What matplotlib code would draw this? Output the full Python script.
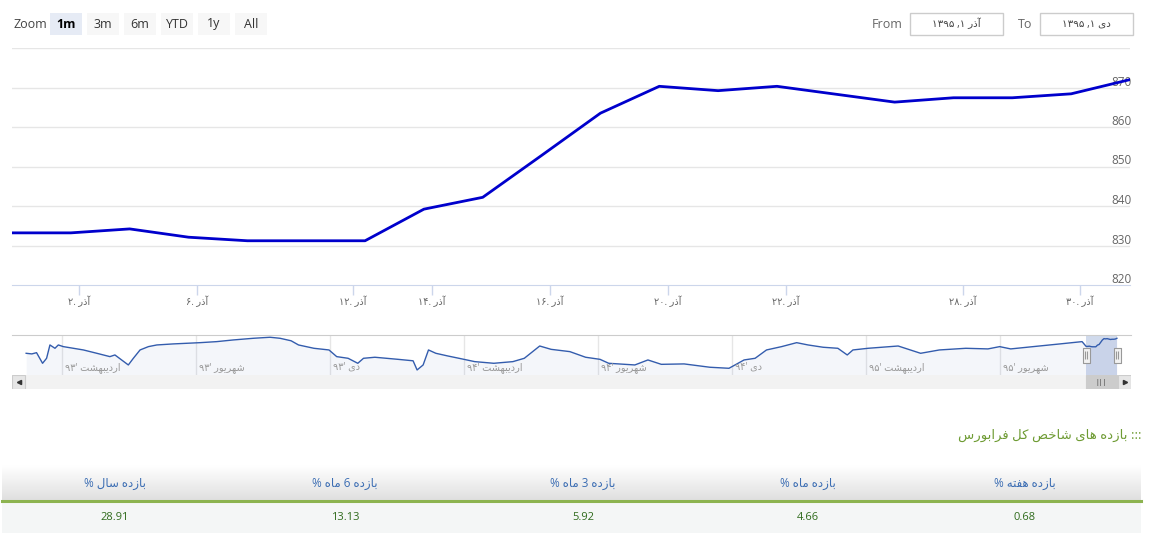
import re
import numpy as np
import matplotlib.pyplot as plt
from matplotlib.path import Path
from matplotlib.patches import Rectangle
from matplotlib.colors import to_rgb

plt.rcParams['font.family'] = ['Open Sans', 'DejaVu Sans']

# main series, one point per trading day (ordinal axis)
index_values = [833.2, 833.2, 834.2, 832.1, 831.2, 831.2, 831.2, 839.2, 842.2, 852.8,
                863.5, 870.3, 869.2, 870.3, 868.3, 866.3, 867.4, 867.4, 868.4, 872.0]
tick_days = [2, 6, 12, 14, 16, 20, 22, 28, 30]
tick_pos = [1.14, 3.14, 5.79, 7.14, 9.14, 11.15, 13.15, 16.16, 18.15]
y_ticks = [820, 830, 840, 850, 860, 870]

# navigator history (month number from farvardin 93 = 1)
nav_month = [0.93, 1.10, 1.24, 1.42, 1.54, 1.64, 1.79, 1.89, 2.04, 2.34,
             2.64, 3.04, 3.43, 3.58, 3.98, 4.13, 4.33, 4.58, 4.83, 5.32,
             5.72, 6.12, 6.62, 7.11, 7.71, 8.21, 8.51, 8.84, 9.06, 9.52,
             9.97, 10.20, 10.54, 10.83, 11.00, 11.34, 12.03, 12.48, 12.60, 12.78,
             12.94, 13.16, 13.52, 13.85, 14.32, 14.89, 15.46, 15.80, 16.26, 16.60,
             17.16, 17.63, 18.06, 18.32, 19.10, 19.49, 19.89, 20.57, 21.34, 21.91,
             22.36, 22.69, 23.03, 23.48, 23.93, 24.27, 24.72, 25.16, 25.44, 25.61,
             26.06, 26.96, 27.63, 28.19, 28.98, 29.64, 29.99, 30.32, 30.99, 31.79,
             32.45]
nav_values = [800, 797, 803, 752, 776, 840, 824, 840, 832, 824,
              816, 800, 784, 792, 744, 776, 816, 832, 840, 845,
              848, 851, 856, 864, 872, 877, 872, 860, 840, 824,
              816, 784, 776, 752, 776, 781, 771, 764, 720, 744,
              816, 800, 787, 776, 760, 752, 760, 776, 835, 819,
              808, 781, 771, 752, 744, 768, 747, 749, 733, 728,
              768, 776, 816, 832, 851, 840, 829, 824, 792, 816,
              824, 835, 800, 816, 824, 821, 832, 821, 832, 845,
              856]
nav_tick_month = [2, 6, 10, 14, 18, 22, 26, 30]
nav_tick_names = ['اردیبهشت', 'شهریور', 'دی', 'اردیبهشت', 'شهریور', 'دی', 'اردیبهشت', 'شهریور']
nav_tick_years = [93, 93, 93, 94, 94, 94, 95, 95]
sel_start, sel_end = 32.57, 33.49

zoom_buttons = ['1m', '3m', '6m', 'YTD', '1y', 'All']
date_from = 'آذر ۱, ۱۳۹۵'
date_to = 'دی ۱, ۱۳۹۵'

table_title = '::: بازده های شاخص کل فرابورس'
table_headers = ['بازده سال %', 'بازده 6 ماه %', 'بازده 3 ماه %', 'بازده ماه %', 'بازده هفته %']
table_values = [28.91, 13.13, 5.92, 4.66, 0.68]
col_centers = [115, 345, 583, 808, 1025]

# --- tiny persian shaper: presentation forms + visual order ---
FORMS = {
    '\u0627': (0xFE8D, 0xFE8E), '\u0622': (0xFE81, 0xFE82), '\u062F': (0xFEA9, 0xFEAA),
    '\u0630': (0xFEAB, 0xFEAC), '\u0631': (0xFEAD, 0xFEAE), '\u0632': (0xFEAF, 0xFEB0),
    '\u0648': (0xFEED, 0xFEEE),
    '\u0628': (0xFE8F, 0xFE90, 0xFE91, 0xFE92), '\u062A': (0xFE95, 0xFE96, 0xFE97, 0xFE98),
    '\u062E': (0xFEA5, 0xFEA6, 0xFEA7, 0xFEA8), '\u0633': (0xFEB1, 0xFEB2, 0xFEB3, 0xFEB4),
    '\u0634': (0xFEB5, 0xFEB6, 0xFEB7, 0xFEB8), '\u0635': (0xFEB9, 0xFEBA, 0xFEBB, 0xFEBC),
    '\u0641': (0xFED1, 0xFED2, 0xFED3, 0xFED4), '\u0644': (0xFEDD, 0xFEDE, 0xFEDF, 0xFEE0),
    '\u0645': (0xFEE1, 0xFEE2, 0xFEE3, 0xFEE4), '\u0647': (0xFEE9, 0xFEEA, 0xFEEB, 0xFEEC),
    '\u06CC': (0xFBFC, 0xFBFD, 0xFBFE, 0xFBFF), '\u06A9': (0xFB8E, 0xFB8F, 0xFB90, 0xFB91),
}


def shape(s):
    out = []
    for i, c in enumerate(s):
        f = FORMS.get(c)
        if f is None:
            out.append(c)
            continue
        prev = s[i - 1] if i > 0 else ''
        nxt = s[i + 1] if i + 1 < len(s) else ''
        jp = prev in FORMS and len(FORMS[prev]) == 4
        jn = len(f) == 4 and nxt in FORMS
        k = 3 if (jp and jn) else 1 if jp else 2 if jn else 0
        out.append(chr(f[k]))
    return ''.join(out)


def fa(s):
    parts = re.findall(r'[0-9\u06F0-\u06F9]+|[^0-9\u06F0-\u06F9]+', shape(s))
    return ''.join(p if p[0].isdigit() else p[::-1] for p in parts[::-1])


def fa_num(n):
    return str(n).translate(str.maketrans('0123456789', '۰۱۲۳۴۵۶۷۸۹'))


W, H = 1149, 533
fig = plt.figure(figsize=(W / 100, H / 100), dpi=100)


def rect(x0, y0, x1, y1):
    return [x0 / W, 1 - y1 / H, (x1 - x0) / W, (y1 - y0) / H]


ui = fig.add_axes([0, 0, 1, 1], zorder=0)
ui.set_xlim(0, W)
ui.set_ylim(H, 0)
ui.axis('off')

# range selector
ui.text(13, 24, 'Zoom', ha='left', va='center', fontsize=9, color='#444444')
for i, lab in enumerate(zoom_buttons):
    x0 = 50 + 37 * i
    sel = i == 0
    ui.add_patch(Rectangle((x0, 13), 32, 22, fc='#e6ebf5' if sel else '#f7f7f7', ec='none'))
    ui.text(x0 + 16, 24, lab, ha='center', va='center', fontsize=9,
            color='#000000' if sel else '#333333', fontweight='bold' if sel else 'normal')

ui.text(903, 24, 'From', ha='right', va='center', fontsize=9, color='#666666')
ui.add_patch(Rectangle((910, 13), 93, 22, fc='white', ec='#cccccc', lw=1))
ui.text(956, 24, fa(date_from), ha='center', va='center', fontsize=7.5, color='#444444')
ui.text(1032, 24, 'To', ha='right', va='center', fontsize=9, color='#666666')
ui.add_patch(Rectangle((1040, 13), 93, 22, fc='white', ec='#cccccc', lw=1))
ui.text(1086, 24, fa(date_to), ha='center', va='center', fontsize=7.5, color='#444444')

# main chart
ax = fig.add_axes(rect(12, 48, 1130, 285), zorder=2)
ax.set_facecolor('none')
x = np.arange(len(index_values))
ax.set_xlim(0, len(index_values) - 1)
ax.set_ylim(820, 880)
for v in y_ticks[1:] + [880]:
    ax.axhline(v, color='#e6e6e6', lw=1, zorder=0)
for s in ['top', 'left', 'right']:
    ax.spines[s].set_visible(False)
ax.spines['bottom'].set_color('#ccd6eb')
ax.plot(x, index_values, color='#0000cc', lw=2, zorder=3)
ax.set_yticks([])
for v in y_ticks:
    ax.annotate(str(v), xy=(1, v), xycoords=('axes fraction', 'data'), xytext=(2, 2),
                textcoords='offset pixels', ha='right', va='baseline', fontsize=8.5,
                color='#666666', zorder=1)
ax.set_xticks(tick_pos)
ax.set_xticklabels([fa_num(d) + '. ' + fa('آذر') for d in tick_days])
ax.tick_params(axis='x', length=7, color='#ccd6eb', width=1, pad=1,
               labelsize=7, labelcolor='#666666')


def px2m(px):
    return 2 + (px - 62) / 33.5


# navigator
nav = fig.add_axes(rect(12, 335, 1131, 375), zorder=2)
nav.set_facecolor('none')
nav.set_xlim(px2m(12), px2m(1131))
nav.set_ylim(695.8, 887.8)
for s in ['left', 'right', 'bottom']:
    nav.spines[s].set_visible(False)
nav.spines['top'].set_color('#cccccc')
nav.set_xticks([])
nav.set_yticks([])
for t, nm, yr in zip(nav_tick_month, nav_tick_names, nav_tick_years):
    nav.axvline(t, color='#e6e6e6', lw=1, zorder=0)
    nav.annotate(fa(nm + " '" + fa_num(yr)), xy=(t, 0), xycoords=('data', 'axes fraction'),
                 xytext=(3, 5), textcoords='offset pixels', ha='left', va='baseline',
                 fontsize=7, color='#999999')
sel_x = list(np.linspace(sel_start, sel_end, len(index_values)))
nx = nav_month + sel_x
ny = nav_values + index_values
nav.fill_between(nx, ny, 695.8, color='#335cad', alpha=0.05, lw=0)
nav.plot(nx, ny, color='#335cad', lw=1)
nav.axvspan(sel_start, sel_end, color='#6685c2', alpha=0.3, lw=0)
hp = Path([(-3.5, -7.5), (3.5, -7.5), (3.5, 7.5), (-3.5, 7.5), (-3.5, -7.5),
           (-1, -4), (-1, 4), (1, -4), (1, 4)],
          [Path.MOVETO, Path.LINETO, Path.LINETO, Path.LINETO, Path.CLOSEPOLY,
           Path.MOVETO, Path.LINETO, Path.MOVETO, Path.LINETO])
ymid = (695.8 + 887.8) / 2
nav.plot([sel_start, sel_end], [ymid, ymid], ls='none', marker=hp, ms=10.8,
         mfc='#f2f2f2', mec='#999999', mew=0.8, clip_on=False, zorder=5)

# scrollbar
sb = fig.add_axes(rect(12, 375, 1131, 389), zorder=2)
sb.set_xlim(px2m(12), px2m(1131))
sb.set_ylim(0, 1)
sb.axis('off')
sb.add_patch(Rectangle((px2m(12), 0), px2m(1131) - px2m(12), 1, fc='#f2f2f2', ec='none'))
sb.add_patch(Rectangle((px2m(12), 0), px2m(25) - px2m(12), 1, fc='#e6e6e6', ec='#cccccc', lw=0.8))
sb.add_patch(Rectangle((px2m(1118), 0), px2m(1131) - px2m(1118), 1, fc='#e6e6e6', ec='#cccccc', lw=0.8))
sb.plot([(px2m(12) + px2m(25)) / 2], [0.5], marker='<', ms=3, color='#333333', ls='none')
sb.plot([(px2m(1118) + px2m(1131)) / 2], [0.5], marker='>', ms=3, color='#333333', ls='none')
sb.add_patch(Rectangle((sel_start, 0), sel_end - sel_start, 1, fc='#cccccc', ec='#cccccc', lw=0.8))
sb.text((sel_start + sel_end) / 2, 0.5, '|||', ha='center', va='center', fontsize=5, color='#333333')

# returns table
ui.text(1141, 435, fa(table_title), ha='right', va='center', fontsize=9.5, color='#6e9b33')
c0, c1 = np.array(to_rgb('#ffffff')), np.array(to_rgb('#e0e0e0'))
grad = np.linspace(0, 1, 40)[:, None, None] * (c1 - c0) + c0
ui.imshow(grad, extent=(2, 1141, 500, 465), aspect='auto', origin='upper', zorder=0)
ui.add_patch(Rectangle((2, 502), 1139, 31, fc='#f4f6f6', ec='none'))
ui.plot([2, 1141], [500.5, 500.5], color='#8cb350', lw=2.2)
for cx, h, v in zip(col_centers, table_headers, table_values):
    ui.text(cx, 483, fa(h), ha='center', va='center', fontsize=8.5, color='#3b6db3')
    ui.text(cx, 517, f'{v:.2f}', ha='center', va='center', fontsize=8, color='#2f6b1c')
ui.set_xlim(0, W)
ui.set_ylim(H, 0)

fig.savefig('out.png', dpi=100)
